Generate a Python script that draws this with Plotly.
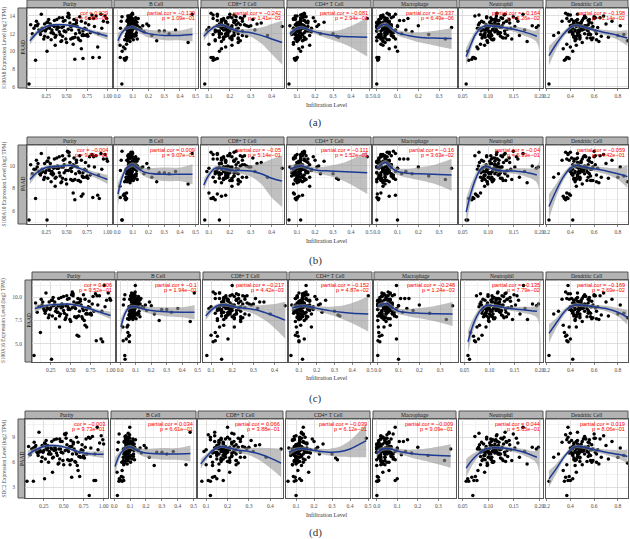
import numpy as np
import plotly.graph_objects as go

W, H = 630, 539

cells = ["Purity", "B Cell", "CD8+ T Cell", "CD4+ T Cell", "Macrophage", "Neutrophil", "Dendritic Cell"]
genes = ["S100A8", "S100A10", "S100A16", "SDC2"]
tags = ["(a)", "(b)", "(c)", "(d)"]

# ---- per-sample infiltration estimates (same samples in every row) ----
purity = [0.04,0.26,0.82,0.12,0.60,0.90,0.70,0.68,0.88,0.58,
          0.35,0.62,0.18,0.47,0.81,0.29,0.55,0.73,0.12,0.41,
          0.66,0.23,0.95,0.38,0.52,0.08,0.77,0.31,0.44,0.59,
          0.21,0.69,0.15,0.49,0.86,0.34,0.57,0.27,0.72,0.43,
          0.99,0.19,0.63,0.36,0.51,0.79,0.25,0.46,0.67,0.14,
          0.54,0.32,0.75,0.28,0.61,0.40,0.92,0.22,0.58,0.70,
          0.37,0.48,0.10,0.65,0.30,0.84,0.45,0.53,0.17,0.74,
          0.26,0.60,0.39,0.97,0.33,0.50,0.68,0.20,0.56,0.42,
          0.78,0.24,0.64,0.06,0.46,0.71,0.35,0.89,0.53,0.28,
          0.44,0.62,0.16,0.76,0.38,0.57,0.31,0.66,0.49,0.93,
          0.23,0.41,0.70,0.13,0.55,0.36,0.83,0.47,0.27,0.60,
          0.52,0.19,0.74,0.39,1.00,0.34,0.58,0.45,0.65,0.30]
b_cell = [0.030,0.032,0.020,0.050,0.055,0.060,0.045,0.050,0.040,0.060,
          0.081,0.064,0.112,0.072,0.093,0.021,0.128,0.102,0.069,0.118,
          0.088,0.057,0.079,0.152,0.097,0.071,0.109,0.048,0.091,0.083,
          0.062,0.121,0.099,0.076,0.068,0.201,0.087,0.113,0.059,0.082,
          0.134,0.074,0.104,0.092,0.031,0.079,0.124,0.063,0.252,0.101,
          0.073,0.094,0.108,0.085,0.061,0.143,0.098,0.069,0.089,0.301,
          0.078,0.117,0.058,0.103,0.091,0.072,0.111,0.084,0.171,0.066,
          0.097,0.081,0.129,0.074,0.092,0.452,0.026,0.107,0.086,0.099,
          0.071,0.093,0.062,0.119,0.083,0.221,0.101,0.075,0.088,0.114,
          0.064,0.081,0.372,0.096,0.073,0.094,0.122,0.087,0.058,0.104,
          0.189,0.069,0.091,0.111,0.082,0.018,0.098,0.268,0.077,0.089,
          0.084,0.478,0.061,0.102,0.126,0.331,0.079,0.072,0.095,0.163]
cd8_t = [0.080,0.150,0.120,0.120,0.130,0.110,0.140,0.160,0.180,0.100,
         0.18,0.22,0.15,0.26,0.12,0.20,0.17,0.24,0.14,0.21,
         0.19,0.28,0.16,0.23,0.11,0.18,0.25,0.13,0.20,0.31,
         0.17,0.22,0.15,0.19,0.27,0.14,0.21,0.18,0.24,0.16,
         0.12,0.20,0.29,0.17,0.23,0.15,0.19,0.26,0.13,0.21,
         0.35,0.18,0.22,0.16,0.24,0.10,0.20,0.17,0.27,0.14,
         0.19,0.23,0.16,0.21,0.33,0.15,0.18,0.25,0.13,0.20,
         0.22,0.17,0.28,0.14,0.19,0.24,0.16,0.21,0.09,0.18,
         0.26,0.15,0.20,0.23,0.17,0.38,0.14,0.19,0.22,0.16,
         0.25,0.18,0.13,0.21,0.17,0.30,0.15,0.20,0.24,0.19,
         0.16,0.22,0.12,0.18,0.45,0.21,0.17,0.23,0.15,0.19,
         0.20,0.14,0.26,0.18,0.22,0.16,0.24,0.19,0.32,0.17]
cd4_t = [0.055,0.120,0.100,0.090,0.095,0.100,0.085,0.110,0.130,0.080,
         0.11,0.14,0.09,0.17,0.12,0.08,0.15,0.10,0.13,0.19,
         0.07,0.12,0.16,0.10,0.14,0.09,0.22,0.11,0.13,0.08,
         0.15,0.10,0.12,0.18,0.09,0.14,0.11,0.25,0.13,0.10,
         0.08,0.16,0.12,0.10,0.14,0.11,0.09,0.20,0.13,0.12,
         0.10,0.15,0.07,0.12,0.30,0.11,0.14,0.09,0.13,0.10,
         0.17,0.12,0.08,0.14,0.11,0.16,0.10,0.13,0.09,0.12,
         0.15,0.33,0.11,0.10,0.14,0.08,0.12,0.18,0.11,0.13,
         0.09,0.15,0.12,0.10,0.21,0.11,0.14,0.08,0.13,0.12,
         0.10,0.16,0.11,0.32,0.09,0.13,0.12,0.15,0.10,0.14,
         0.11,0.08,0.13,0.12,0.10,0.17,0.49,0.11,0.14,0.09,
         0.12,0.13,0.10,0.15,0.11,0.23,0.09,0.12,0.16,0.06]
macrophage = [0.000,0.100,0.001,0.005,0.008,0.010,0.003,0.060,0.090,0.020,
              0.02,0.05,0.01,0.07,0.03,0.04,0.09,0.00,0.06,0.02,
              0.04,0.08,0.01,0.03,0.05,0.12,0.02,0.06,0.00,0.04,
              0.03,0.07,0.01,0.05,0.02,0.10,0.04,0.00,0.06,0.03,
              0.15,0.02,0.05,0.01,0.08,0.04,0.03,0.06,0.00,0.20,
              0.02,0.05,0.07,0.01,0.04,0.03,0.09,0.02,0.06,0.00,
              0.04,0.11,0.03,0.05,0.01,0.07,0.02,0.04,0.17,0.03,
              0.06,0.00,0.05,0.02,0.08,0.04,0.01,0.03,0.06,0.25,
              0.02,0.05,0.03,0.07,0.00,0.04,0.13,0.02,0.06,0.01,
              0.03,0.05,0.09,0.02,0.04,0.00,0.07,0.03,0.33,0.05,
              0.01,0.06,0.02,0.04,0.10,0.03,0.05,0.00,0.08,0.02,
              0.04,0.06,0.01,0.36,0.03,0.05,0.02,0.07,0.14,0.04]
neutrophil = [0.057,0.060,0.070,0.062,0.068,0.072,0.075,0.080,0.078,0.085,
              0.102,0.121,0.093,0.114,0.131,0.084,0.106,0.142,0.111,0.097,
              0.124,0.101,0.158,0.089,0.117,0.133,0.081,0.108,0.126,0.113,
              0.095,0.138,0.104,0.119,0.074,0.112,0.129,0.091,0.099,0.176,
              0.115,0.086,0.122,0.103,0.149,0.094,0.109,0.135,0.098,0.127,
              0.083,0.116,0.092,0.141,0.105,0.123,0.168,0.111,0.096,0.132,
              0.100,0.118,0.079,0.110,0.107,0.152,0.090,0.125,0.113,0.137,
              0.103,0.094,0.186,0.116,0.121,0.099,0.087,0.144,0.108,0.092,
              0.128,0.101,0.134,0.112,0.095,0.161,0.106,0.119,0.082,0.114,
              0.098,0.130,0.091,0.124,0.109,0.198,0.102,0.097,0.146,0.115,
              0.120,0.104,0.085,0.136,0.111,0.093,0.155,0.100,0.127,0.117,
              0.096,0.133,0.107,0.194,0.113,0.122,0.088,0.105,0.171,0.118]
dendritic = [0.22,0.42,0.37,0.35,0.36,0.38,0.39,0.34,0.40,0.37,
             0.48,0.55,0.42,0.61,0.38,0.51,0.45,0.58,0.40,0.53,
             0.47,0.66,0.43,0.50,0.36,0.56,0.44,0.62,0.49,0.41,
             0.54,0.46,0.70,0.39,0.52,0.47,0.59,0.43,0.50,0.64,
             0.37,0.55,0.45,0.48,0.60,0.42,0.51,0.75,0.44,0.53,
             0.49,0.40,0.57,0.46,0.52,0.63,0.38,0.48,0.55,0.44,
             0.80,0.50,0.42,0.58,0.47,0.53,0.45,0.61,0.41,0.49,
             0.56,0.43,0.52,0.68,0.46,0.50,0.39,0.57,0.44,0.85,
             0.51,0.47,0.54,0.42,0.59,0.48,0.45,0.62,0.40,0.53,
             0.88,0.46,0.50,0.43,0.56,0.49,0.30,0.52,0.44,0.58,
             0.47,0.41,0.55,0.33,0.50,0.45,0.60,0.48,0.72,0.43,
             0.51,0.46,0.26,0.54,0.49,0.42,0.57,0.65,0.47,0.82]

# ---- per-sample expression estimates (log2 TPM) ----
s100a8 = [6.3,10.0,9.3,9.0,9.1,9.3,9.2,10.3,10.5,10.8,
          12.8,13.5,11.9,12.3,14.1,12.6,11.4,13.2,12.9,13.8,
          12.1,11.7,13.4,12.5,14.3,12.0,13.0,11.3,12.7,13.6,
          12.4,11.8,13.1,12.2,14.0,12.9,11.5,13.3,12.6,11.1,
          13.7,12.3,12.8,11.6,13.9,12.1,12.5,13.4,11.2,12.9,
          13.2,12.4,11.9,13.6,12.0,12.7,14.2,11.4,13.0,12.3,
          11.8,13.5,12.6,11.3,13.1,12.8,11.7,13.8,12.2,12.5,
          13.3,11.6,12.9,14.0,12.1,11.0,13.4,12.6,12.4,11.9,
          13.7,12.3,11.5,13.0,12.8,11.8,13.5,12.0,14.1,12.7,
          11.2,13.2,12.4,11.7,13.6,12.9,12.1,13.9,11.4,12.6,
          13.1,12.2,11.9,13.4,12.8,10.7,13.7,12.3,11.6,13.0,
          12.5,14.2,11.8,12.7,13.3,12.0,11.5,13.8,12.4,12.9]
s100a10 = [5.2,5.2,7.2,7.1,7.0,7.1,7.5,7.3,7.4,7.6,
           9.9,10.5,9.2,10.1,11.0,9.6,8.8,10.3,9.7,10.8,
           9.4,9.0,10.6,9.8,11.2,9.3,10.0,8.6,9.9,10.7,
           9.5,9.1,10.2,9.6,10.9,9.8,8.7,10.4,9.7,8.5,
           10.6,9.4,9.9,8.9,11.3,9.2,9.6,10.5,8.6,9.9,
           10.3,9.5,9.1,10.7,9.3,9.8,11.1,8.8,10.1,9.4,
           9.0,10.6,9.7,8.7,10.2,9.9,8.9,10.9,9.3,9.6,
           10.4,8.8,10.0,11.0,9.2,8.4,10.5,9.7,9.5,9.1,
           10.8,9.4,8.7,10.1,9.9,9.0,10.6,9.2,11.2,9.8,
           8.6,10.3,9.5,8.9,10.7,9.9,9.3,10.9,8.8,9.7,
           10.2,9.4,9.0,10.5,9.8,8.2,10.8,9.4,8.9,10.0,
           9.6,11.1,9.0,9.8,10.4,9.3,8.7,10.9,9.5,9.9]
s100a16 = [3.7,3.3,5.3,6.2,5.8,5.2,6.8,7.0,5.5,5.9,
           9.1,9.8,8.3,8.9,10.4,9.2,7.9,9.6,9.0,10.1,
           8.6,8.1,9.7,8.9,10.6,8.4,9.3,7.7,9.1,9.9,
           8.8,8.2,9.5,8.7,10.2,9.1,7.8,9.7,9.0,7.6,
           9.9,8.6,9.2,8.0,10.3,8.5,8.9,9.8,7.5,9.2,
           9.5,8.8,8.3,10.0,8.5,9.0,11.3,7.8,9.4,8.7,
           8.2,9.9,9.0,7.7,9.5,9.2,8.1,10.2,8.6,8.9,
           9.7,8.0,9.3,10.5,8.4,7.4,9.8,9.0,8.8,8.3,
           10.1,8.7,7.9,9.4,9.2,8.2,9.9,8.5,10.4,9.1,
           7.8,9.6,8.8,8.1,10.0,9.3,8.5,10.3,7.6,9.0,
           9.5,8.6,8.3,9.8,9.1,6.8,10.2,8.7,8.0,9.4,
           8.9,10.5,8.2,9.1,9.7,8.4,7.9,10.2,8.8,9.2]
sdc2 = [3.7,4.0,2.0,3.7,4.2,3.8,4.3,5.0,3.8,5.7,
        7.6,8.4,6.8,7.2,9.0,7.5,6.3,8.1,7.7,8.8,
        7.0,6.6,8.3,7.4,9.3,6.9,7.8,6.0,7.6,8.6,
        7.3,6.7,8.0,7.1,9.1,7.7,6.2,8.2,7.5,5.8,
        8.7,7.2,7.6,6.5,9.4,7.0,7.4,8.5,5.6,7.8,
        8.1,7.3,6.8,8.6,7.0,7.5,10.2,6.1,7.9,7.2,
        6.6,8.5,7.6,6.0,8.0,7.7,6.4,8.9,7.1,7.4,
        8.3,6.3,7.8,9.2,7.0,5.7,8.4,7.5,7.3,6.8,
        8.8,7.2,6.1,7.9,7.6,6.6,8.5,7.0,9.5,7.7,
        5.9,8.2,7.3,6.5,8.7,7.8,7.0,9.0,6.2,7.5,
        8.0,7.1,6.7,8.4,7.6,4.8,8.9,7.2,6.4,7.9,
        7.4,9.6,6.6,7.6,8.2,7.0,6.2,8.8,7.3,7.7]

# ---- correlation labels ----
stat_s100a8 = [("cor = 0.029", "p = 6.45e−01"), ("partial.cor = −0.129", "p = 1.09e−01"),
               ("partial.cor = −0.242", "p = 1.41e−03"), ("partial.cor = −0.081", "p = 2.94e−01"),
               ("partial.cor = −0.337", "p = 6.49e−06"), ("partial.cor = −0.164", "p = 3.26e−02"),
               ("partial.cor = −0.198", "p = 1.14e−02")]
stat_s100a10 = [("cor = −0.004", "p = 9.56e−01"), ("partial.cor = 0.009", "p = 9.07e−01"),
                ("partial.cor = −0.05", "p = 5.14e−01"), ("partial.cor = −0.111", "p = 1.52e−01"),
                ("partial.cor = −0.16", "p = 3.63e−02"), ("partial.cor = −0.04", "p = 5.99e−01"),
                ("partial.cor = −0.059", "p = 4.42e−01")]
stat_s100a16 = [("cor = 0.006", "p = 9.52e−01"), ("partial.cor = −0.1", "p = 1.94e−01"),
                ("partial.cor = −0.217", "p = 4.42e−03"), ("partial.cor = −0.152", "p = 4.87e−02"),
                ("partial.cor = −0.248", "p = 1.24e−03"), ("partial.cor = −0.135", "p = 7.79e−02"),
                ("partial.cor = −0.169", "p = 2.69e−02")]
stat_sdc2 = [("cor = −0.003", "p = 9.73e−01"), ("partial.cor = 0.034", "p = 6.61e−01"),
             ("partial.cor = 0.066", "p = 3.88e−01"), ("partial.cor = −0.039", "p = 6.12e−01"),
             ("partial.cor = −0.009", "p = 9.09e−01"), ("partial.cor = 0.044", "p = 5.65e−01"),
             ("partial.cor = 0.019", "p = 8.06e−01")]

# ---- smoothed fit (x, fitted value, half-width of confidence band) ----
fx_purity = [0.05,0.15,0.25,0.35,0.45,0.55,0.65,0.75,0.85,1.0]
fx_bcell = [0.005,0.03,0.06,0.1,0.15,0.2,0.3,0.4,0.48]
fx_cd8 = [0.075,0.1,0.13,0.17,0.21,0.25,0.3,0.35,0.4,0.45]
fx_cd4 = [0.06,0.1,0.13,0.17,0.22,0.28,0.34,0.4,0.49]
fx_macro = [0.0,0.02,0.045,0.07,0.1,0.15,0.2,0.27,0.36]
fx_neut = [0.057,0.065,0.075,0.085,0.095,0.11,0.13,0.15,0.17,0.195,0.2]
fx_dc = [0.22,0.28,0.34,0.4,0.45,0.5,0.6,0.7,0.8,0.88]

fit_s100a8 = [
    ([11.2,12.2,12.8,13.0,13.0,12.9,12.7,12.4,12.1,11.7], [0.45,0.25,0.18,0.15,0.15,0.15,0.17,0.2,0.25,0.4]),
    ([11.2,12.1,12.6,12.75,12.3,12.0,11.8,11.8,11.9], [0.9,0.35,0.2,0.2,0.3,0.45,0.55,0.55,0.8]),
    ([11.7,12.3,12.8,12.95,12.5,12.25,12.1,11.8,11.4,11.0], [0.5,0.3,0.22,0.2,0.2,0.25,0.45,0.9,1.7,2.5]),
    ([12.0,12.6,12.7,12.4,12.1,11.85,11.7,11.65,11.6], [0.4,0.2,0.2,0.2,0.3,0.45,0.7,1.2,2.2]),
    ([12.4,12.9,13.05,12.6,12.1,11.8,11.6,11.5,11.45], [0.3,0.25,0.25,0.25,0.3,0.4,0.55,0.8,1.2]),
    ([9.4,10.6,11.9,12.6,12.9,12.85,12.7,12.5,12.2,11.7,11.6], [1.0,0.7,0.4,0.25,0.2,0.2,0.22,0.3,0.45,0.7,9]),
    ([9.5,10.8,11.9,12.7,12.95,12.8,12.4,12.1,11.8,11.5], [1.1,0.6,0.35,0.22,0.2,0.2,0.22,0.3,0.5,0.9]),
]
fit_s100a10 = [
    ([8.8,9.5,9.85,9.95,10.0,10.05,9.8,9.5,9.2,8.8], [0.45,0.22,0.16,0.14,0.14,0.15,0.16,0.2,0.25,0.4]),
    ([7.5,8.9,9.8,10.1,9.6,9.35,9.25,9.25,9.25], [1.0,0.4,0.22,0.22,0.3,0.45,0.6,0.6,0.9]),
    ([8.3,9.2,9.8,9.75,9.6,9.6,9.55,9.3,8.9,8.65], [0.5,0.3,0.2,0.2,0.22,0.3,0.5,0.9,1.7,2.3]),
    ([9.7,9.95,10.0,9.75,9.6,9.55,9.5,9.45,9.4], [0.4,0.2,0.2,0.22,0.3,0.45,0.7,1.1,1.9]),
    ([9.75,10.1,10.3,9.85,9.5,9.35,9.3,9.25,9.2], [0.3,0.25,0.25,0.3,0.3,0.4,0.55,0.8,1.4]),
    ([5.9,7.4,8.8,9.7,10.0,9.7,9.55,9.55,9.45,9.2,9.15], [1.2,0.8,0.45,0.28,0.2,0.2,0.2,0.25,0.35,0.7,9]),
    ([6.4,7.8,9.0,9.8,10.05,9.95,9.75,9.55,9.3,9.05], [1.1,0.6,0.35,0.22,0.2,0.2,0.22,0.3,0.5,1.0]),
]
fit_s100a16 = [
    ([8.8,9.05,9.2,9.25,9.3,9.2,9.0,8.75,8.45,8.05], [0.45,0.22,0.16,0.14,0.14,0.15,0.16,0.2,0.25,0.4]),
    ([6.8,8.2,8.95,9.0,8.75,8.6,8.45,8.4,8.4], [0.9,0.4,0.22,0.2,0.3,0.4,0.5,0.55,0.8]),
    ([8.0,8.6,9.1,9.2,9.0,8.85,8.7,8.4,8.0,7.55], [0.5,0.3,0.22,0.2,0.22,0.3,0.45,0.8,1.3,2.0]),
    ([8.85,9.05,9.1,8.95,8.75,8.55,8.4,8.3,8.2], [0.4,0.2,0.2,0.22,0.3,0.45,0.7,1.1,1.9]),
    ([9.0,9.25,9.35,8.9,8.5,8.35,8.3,8.25,8.2], [0.3,0.25,0.25,0.3,0.3,0.4,0.55,0.8,1.3]),
    ([5.2,6.7,8.0,8.8,9.15,9.1,8.9,8.75,8.65,8.5,8.45], [1.2,0.8,0.45,0.28,0.2,0.2,0.2,0.25,0.35,0.7,9]),
    ([6.1,7.2,8.3,9.0,9.2,9.15,9.0,8.8,8.4,7.85], [1.0,0.55,0.35,0.22,0.2,0.2,0.22,0.3,0.45,0.8]),
]
fit_sdc2 = [
    ([6.9,7.5,7.9,8.0,7.95,7.7,7.35,7.1,7.0,6.95], [0.5,0.25,0.18,0.16,0.16,0.17,0.18,0.22,0.28,0.45]),
    ([5.5,6.7,7.5,7.85,7.35,7.1,7.0,7.0,7.05], [1.1,0.5,0.25,0.25,0.35,0.5,0.7,0.7,0.95]),
    ([5.8,6.6,7.4,7.9,7.7,7.45,7.3,7.0,6.5,5.9], [0.6,0.35,0.25,0.2,0.22,0.3,0.45,0.75,1.2,1.7]),
    ([7.2,7.55,7.65,7.55,7.35,7.2,7.25,7.6,8.6], [0.45,0.22,0.2,0.22,0.3,0.4,0.6,1.0,2.0]),
    ([7.0,7.5,7.65,7.6,7.35,7.1,6.95,6.85,6.75], [0.4,0.3,0.25,0.25,0.3,0.4,0.6,0.9,1.4]),
    ([5.3,6.0,6.7,7.2,7.6,7.75,7.7,7.5,7.2,6.6,6.5], [1.1,0.8,0.5,0.3,0.22,0.2,0.22,0.28,0.4,0.8,9]),
    ([4.0,5.2,6.5,7.5,7.9,7.85,7.5,7.2,6.95,6.7], [1.0,0.6,0.35,0.25,0.22,0.22,0.25,0.32,0.5,0.8]),
]

# ---- scales ----
x_ranges = [[0.015, 1.055], [-0.02, 0.515], [0.062, 0.459], [0.044, 0.511],
            [-0.018, 0.386], [0.043, 0.207], [0.195, 0.885]]
x_dtick = [0.25, 0.1, 0.1, 0.1, 0.1, 0.05, 0.2]
x_fmt = [".2f", ".1f", ".1f", ".1f", ".1f", ".2f", ".1f"]
y_ranges = [[5.85, 14.9], [4.85, 11.85], [3.0, 11.9], [1.7, 11.2]]
y_dtick = [2, 2, 2.5, 3]
y_fmt = ["d", "d", ".1f", "d"]

# ---- geometry (pixels) ----
panel_x = [
    [(27,112),(114,198),(201,284),(287,371),(373,457),(459,543),(546,628)],
    [(27,112),(114,198),(201,284),(287,371),(373,457),(459,543),(546,628)],
    [(32,115),(117,200),(203,287),(289,372),(374,458),(461,543),(546,628)],
    [(25,108),(111,196),(198,283),(286,370),(373,456),(459,543),(546,628)],
]
plot_y = [(8, 88), (145, 224), (280, 362), (419, 498)]
strip_h = 8
paad_x = [(18, 27), (18, 27), (25, 32), (18, 25)]
xlabel_y = [105, 241, 378, 515]
tag_y = [123, 260, 398, 532]

cell_data = [purity, b_cell, cd8_t, cd4_t, macrophage, neutrophil, dendritic]
fit_x = [fx_purity, fx_bcell, fx_cd8, fx_cd4, fx_macro, fx_neut, fx_dc]
expr_data = [s100a8, s100a10, s100a16, sdc2]
fits = [fit_s100a8, fit_s100a10, fit_s100a16, fit_sdc2]
stats = [stat_s100a8, stat_s100a10, stat_s100a16, stat_sdc2]

SERIF = "Liberation Serif, Times New Roman, serif"
SANS = "Liberation Sans, Arial, sans-serif"
tickfont = dict(family=SERIF, size=5.5, color="#4d4d4d")
GRID = "#d6d6d6"
MINOR = "#e6e6e6"
BORDER = "#555555"
STRIP_FILL = "#b3b3b3"

def px(x):
    return x / W

def py(y):
    return 1 - y / H

fig = go.Figure()
shapes, annotations, axes = [], [], {}

for r in range(4):
    y0, y1 = plot_y[r]
    for c in range(7):
        n = r * 7 + c + 1
        s = "" if n == 1 else str(n)
        x0, x1 = panel_x[r][c]
        axes["xaxis" + s] = dict(
            domain=[px(x0), px(x1)], anchor="y" + s, range=x_ranges[c],
            tickmode="linear", tick0=0, dtick=x_dtick[c], tickformat=x_fmt[c],
            ticks="outside", ticklen=2, tickwidth=0.6, tickcolor="#333", tickfont=tickfont,
            showgrid=True, gridcolor=GRID, gridwidth=0.8,
            minor=dict(tick0=0, dtick=x_dtick[c] / 2, showgrid=True, gridcolor=MINOR, gridwidth=0.5),
            showline=True, mirror=True, linecolor=BORDER, linewidth=1, zeroline=False,
            automargin=False, fixedrange=True)
        axes["yaxis" + s] = dict(
            domain=[py(y1), py(y0)], anchor="x" + s, range=y_ranges[r],
            tickmode="linear", tick0=0, dtick=y_dtick[r], tickformat=y_fmt[r],
            ticks="", showticklabels=(c == 0), tickfont=tickfont,
            ticklabelstandoff=(x0 - paad_x[r][0]) + 1,
            showgrid=True, gridcolor=GRID, gridwidth=0.8,
            minor=dict(tick0=0, dtick=y_dtick[r] / 2, showgrid=True, gridcolor=MINOR, gridwidth=0.5),
            showline=True, mirror=True, linecolor=BORDER, linewidth=1, zeroline=False,
            automargin=False, fixedrange=True)

        xa, ya = "x" + s, "y" + s
        fig.add_trace(go.Scatter(
            x=cell_data[c], y=expr_data[r], mode="markers", xaxis=xa, yaxis=ya,
            marker=dict(size=3.5, color="black", line=dict(width=0)), hoverinfo="skip"))
        fxv = np.array(fit_x[c])
        fyv = np.array(fits[r][c][0])
        hw = np.array(fits[r][c][1])
        fig.add_trace(go.Scatter(
            x=fxv, y=fyv + hw, mode="lines", xaxis=xa, yaxis=ya,
            line=dict(width=0, shape="spline", smoothing=0.8), hoverinfo="skip"))
        fig.add_trace(go.Scatter(
            x=fxv, y=fyv - hw, mode="lines", xaxis=xa, yaxis=ya, fill="tonexty",
            fillcolor="rgba(150,150,150,0.6)",
            line=dict(width=0, shape="spline", smoothing=0.8), hoverinfo="skip"))
        fig.add_trace(go.Scatter(
            x=fxv[:-1] if c == 5 else fxv, y=fyv[:-1] if c == 5 else fyv,
            mode="lines", xaxis=xa, yaxis=ya,
            line=dict(width=1.5, color="#1c3a94", shape="spline", smoothing=0.8), hoverinfo="skip"))

        # strip on top
        shapes.append(dict(type="rect", xref="paper", yref="paper",
                           x0=px(x0), x1=px(x1), y0=py(y0), y1=py(y0 - strip_h),
                           fillcolor=STRIP_FILL, line=dict(color=BORDER, width=1), layer="below"))
        annotations.append(dict(text=cells[c], xref="paper", yref="paper",
                                x=px((x0 + x1) / 2), y=py(y0 - strip_h / 2),
                                showarrow=False, font=dict(family=SERIF, size=5.5, color="#1a1a1a"),
                                xanchor="center", yanchor="middle"))
        # statistics
        l1, l2 = stats[r][c]
        annotations.append(dict(text=l1, xref="paper", yref="paper", x=px(x1 - 1.5), y=py(y0 + 4.5),
                                showarrow=False, font=dict(family=SANS, size=5.6, color="#ff0000"),
                                xanchor="right", yanchor="middle"))
        annotations.append(dict(text=l2, xref="paper", yref="paper", x=px(x1 - 1.5), y=py(y0 + 10),
                                showarrow=False, font=dict(family=SANS, size=5.6, color="#ff0000"),
                                xanchor="right", yanchor="middle"))

    # PAAD row strip
    a0, a1 = paad_x[r]
    shapes.append(dict(type="rect", xref="paper", yref="paper",
                       x0=px(a0), x1=px(a1), y0=py(y1), y1=py(y0),
                       fillcolor=STRIP_FILL, line=dict(color=BORDER, width=1), layer="below"))
    annotations.append(dict(text="PAAD", xref="paper", yref="paper",
                            x=px((a0 + a1) / 2), y=py((y0 + y1) / 2), textangle=-90,
                            showarrow=False, font=dict(family=SERIF, size=5.5, color="#1a1a1a"),
                            xanchor="center", yanchor="middle"))
    # y title
    annotations.append(dict(text=f"{genes[r]} Expression Level (log2 TPM)", xref="paper", yref="paper",
                            x=px(4), y=py((y0 + y1) / 2), textangle=-90, showarrow=False,
                            font=dict(family=SERIF, size=5.3, color="#4d4d4d"),
                            xanchor="center", yanchor="middle"))
    # x title
    annotations.append(dict(text="Infiltration Level", xref="paper", yref="paper",
                            x=px(326), y=py(xlabel_y[r]), showarrow=False,
                            font=dict(family=SERIF, size=6, color="#333"),
                            xanchor="center", yanchor="middle"))
    # panel tag
    annotations.append(dict(text=tags[r], xref="paper", yref="paper",
                            x=px(315), y=py(tag_y[r]), showarrow=False,
                            font=dict(family=SERIF, size=11, color="#333"),
                            xanchor="center", yanchor="middle"))

fig.update_layout(
    width=W, height=H, margin=dict(l=0, r=0, t=0, b=0, autoexpand=False),
    paper_bgcolor="white", plot_bgcolor="white", showlegend=False,
    shapes=shapes, annotations=annotations, **axes)

fig.write_html("out.html", config={"displayModeBar": False, "staticPlot": True},
               post_script="document.body.style.margin='0px';document.body.style.padding='0px';"
                           "document.body.style.overflow='hidden';")
